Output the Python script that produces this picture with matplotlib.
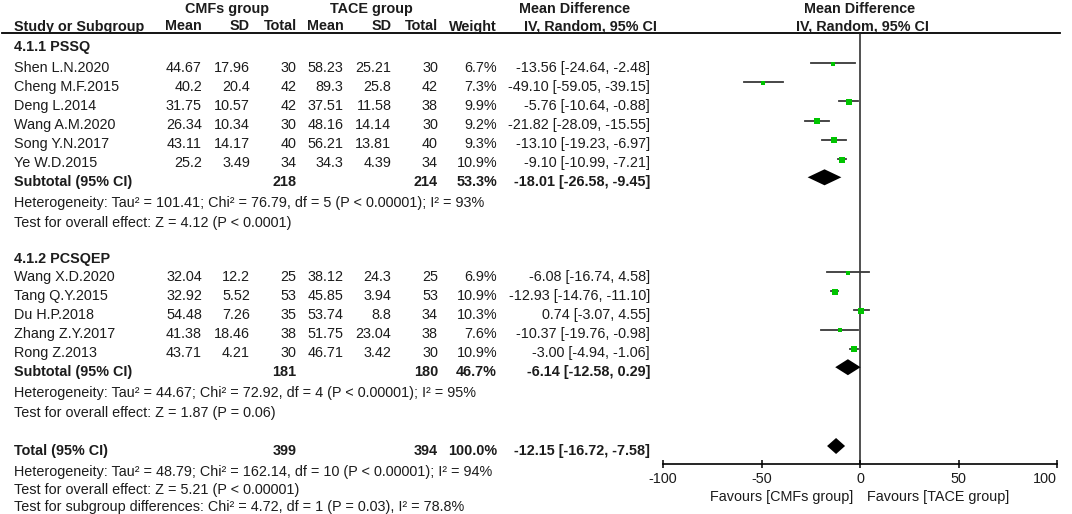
import numpy as np
import matplotlib
matplotlib.use('Agg')
import matplotlib.pyplot as plt

plt.rcParams['font.family'] = ['Liberation Sans', 'DejaVu Sans']
plt.rcParams['axes.unicode_minus'] = False

# --- data -------------------------------------------------------------
studies1 = ['Shen L.N.2020', 'Cheng M.F.2015', 'Deng L.2014', 'Wang A.M.2020',
            'Song Y.N.2017', 'Ye W.D.2015']
cmf_mean1 = [44.67, 40.2, 31.75, 26.34, 43.11, 25.2]
cmf_sd1 = [17.96, 20.4, 10.57, 10.34, 14.17, 3.49]
cmf_n1 = [30, 42, 42, 30, 40, 34]
tace_mean1 = [58.23, 89.3, 37.51, 48.16, 56.21, 34.3]
tace_sd1 = [25.21, 25.8, 11.58, 14.14, 13.81, 4.39]
tace_n1 = [30, 42, 38, 30, 40, 34]
weight1 = [6.7, 7.3, 9.9, 9.2, 9.3, 10.9]
md1 = [-13.56, -49.10, -5.76, -21.82, -13.10, -9.10]
lo1 = [-24.64, -59.05, -10.64, -28.09, -19.23, -10.99]
hi1 = [-2.48, -39.15, -0.88, -15.55, -6.97, -7.21]

studies2 = ['Wang X.D.2020', 'Tang Q.Y.2015', 'Du H.P.2018', 'Zhang Z.Y.2017', 'Rong Z.2013']
cmf_mean2 = [32.04, 32.92, 54.48, 41.38, 43.71]
cmf_sd2 = [12.2, 5.52, 7.26, 18.46, 4.21]
cmf_n2 = [25, 53, 35, 38, 30]
tace_mean2 = [38.12, 45.85, 53.74, 51.75, 46.71]
tace_sd2 = [24.3, 3.94, 8.8, 23.04, 3.42]
tace_n2 = [25, 53, 34, 38, 30]
weight2 = [6.9, 10.9, 10.3, 7.6, 10.9]
md2 = [-6.08, -12.93, 0.74, -10.37, -3.00]
lo2 = [-16.74, -14.76, -3.07, -19.76, -4.94]
hi2 = [4.58, -11.10, 4.55, -0.98, -1.06]

# subtotal 1, subtotal 2, total: n_cmf, n_tace, weight, md, lo, hi
pooled_labels = ['Subtotal (95% CI)', 'Subtotal (95% CI)', 'Total (95% CI)']
pooled_n_cmf = [218, 181, 399]
pooled_n_tace = [214, 180, 394]
pooled_weight = [53.3, 46.7, 100.0]
pooled_md = [-18.01, -6.14, -12.15]
pooled_lo = [-26.58, -12.58, -16.72]
pooled_hi = [-9.45, 0.29, -7.58]

group_titles = ['4.1.1 PSSQ', '4.1.2 PCSQEP']
stats_lines = [
    ['Heterogeneity: Tau\u00b2 = 101.41; Chi\u00b2 = 76.79, df = 5 (P < 0.00001); I\u00b2 = 93%',
     'Test for overall effect: Z = 4.12 (P < 0.0001)'],
    ['Heterogeneity: Tau\u00b2 = 44.67; Chi\u00b2 = 72.92, df = 4 (P < 0.00001); I\u00b2 = 95%',
     'Test for overall effect: Z = 1.87 (P = 0.06)'],
    ['Heterogeneity: Tau\u00b2 = 48.79; Chi\u00b2 = 162.14, df = 10 (P < 0.00001); I\u00b2 = 94%',
     'Test for overall effect: Z = 5.21 (P < 0.00001)',
     'Test for subgroup differences: Chi\u00b2 = 4.72, df = 1 (P = 0.03), I\u00b2 = 78.8%'],
]
xticks = [-100, -50, 0, 50, 100]

# --- layout (pixel rows / columns) ------------------------------------
W, H = 1072, 514
FS = 10.4
TXT = '#1c1c1c'
cols = [202, 250, 296.5, 343.5, 391.5, 438, 497, 650]
g1_title_y = 50.7
g1_rows = [71.7 + 19.1 * i for i in range(6)]
sub1_y = 186.3
st1_y = [206.5, 226.5]
g2_title_y = 262.7
g2_rows = [280.7 + 19.1 * i for i in range(5)]
sub2_y = 376.2
st2_y = [397, 417]
total_y = 455
st3_y = [476, 494, 511]
pooled_y = [sub1_y, sub2_y, total_y]

fig = plt.figure(figsize=(W / 100, H / 100), dpi=100)
tab = fig.add_axes([0, 0, 1, 1])
tab.set_xlim(0, W)
tab.set_ylim(H, 0)
tab.axis('off')


def put(x, y, s, ha='left', bold=False):
    tab.text(x, y, s, ha=ha, va='baseline', fontsize=FS,
             fontweight='bold' if bold else 'normal', color=TXT)


def fmt_md(m, l, h):
    return f'{m:.2f} [{l:.2f}, {h:.2f}]'


# header
put(226.7, 13, 'CMFs group', ha='center', bold=True)
put(371, 13, 'TACE group', ha='center', bold=True)
put(574.5, 13, 'Mean Difference', ha='center', bold=True)
put(860, 13, 'Mean Difference', ha='center', bold=True)
put(14, 30.5, 'Study or Subgroup', bold=True)
for x, s in zip(cols[:7], ['Mean', 'SD', 'Total', 'Mean', 'SD', 'Total', 'Weight']):
    put(x, 30.5, s, ha='right', bold=True)
put(590, 30.5, 'IV, Random, 95% CI', ha='center', bold=True)
put(862, 30.5, 'IV, Random, 95% CI', ha='center', bold=True)
tab.plot([2, 1060], [32.5, 32.5], color='black', lw=1.3)

# study rows
groups = [
    (group_titles[0], g1_title_y, g1_rows, studies1, cmf_mean1, cmf_sd1, cmf_n1,
     tace_mean1, tace_sd1, tace_n1, weight1, md1, lo1, hi1),
    (group_titles[1], g2_title_y, g2_rows, studies2, cmf_mean2, cmf_sd2, cmf_n2,
     tace_mean2, tace_sd2, tace_n2, weight2, md2, lo2, hi2),
]
for (title, ty, rows, names, cm, cs, cn, tm, ts, tn, wt, md, lo, hi) in groups:
    put(14, ty, title, bold=True)
    for i, y in enumerate(rows):
        put(14, y, names[i])
        vals = [f'{cm[i]:g}', f'{cs[i]:g}', f'{cn[i]}', f'{tm[i]:g}', f'{ts[i]:g}',
                f'{tn[i]}', f'{wt[i]:.1f}%', fmt_md(md[i], lo[i], hi[i])]
        for x, s in zip(cols, vals):
            put(x, y, s, ha='right')

for k, y in enumerate(pooled_y):
    put(14, y, pooled_labels[k], bold=True)
    put(cols[2], y, f'{pooled_n_cmf[k]}', ha='right', bold=True)
    put(cols[5], y, f'{pooled_n_tace[k]}', ha='right', bold=True)
    put(cols[6], y, f'{pooled_weight[k]:.1f}%', ha='right', bold=True)
    put(cols[7], y, fmt_md(pooled_md[k], pooled_lo[k], pooled_hi[k]), ha='right', bold=True)

for lines, ys in zip(stats_lines, [st1_y, st2_y, st3_y]):
    for s, y in zip(lines, ys):
        put(14, y, s)

# --- forest panel -----------------------------------------------------
x0, x1, ytop, yaxis = 663, 1057, 32.5, 464
fx = fig.add_axes([x0 / W, (H - yaxis) / H, (x1 - x0) / W, (yaxis - ytop) / H])
fx.set_xlim(-100, 100)
fx.set_ylim(yaxis, ytop)
fx.patch.set_alpha(0)
for sp in ['left', 'right', 'top']:
    fx.spines[sp].set_visible(False)
fx.spines['bottom'].set_linewidth(1.2)
fx.set_yticks([])
fx.set_xticks(xticks)
fx.set_xticklabels([str(t) for t in xticks])
fx.tick_params(axis='x', direction='inout', length=6, width=1.1, labelsize=FS,
               pad=2.5, colors='black', labelcolor=TXT)
fx.get_xticklabels()[-1].set_ha('right')
fx.axvline(0, color='#222222', lw=1.1, zorder=1)

off = 8.5
for rows, md, lo, hi, wt in [(g1_rows, md1, lo1, hi1, weight1), (g2_rows, md2, lo2, hi2, weight2)]:
    for y, m, l, h, w in zip(rows, md, lo, hi, wt):
        fx.plot([l, h], [y - off, y - off], color='#383838', lw=1.3, zorder=2)
        fx.plot([m], [y - off + 0.8], 's', color='#00c400', mew=0,
                ms=(2.4 + 0.3 * w) / 1.389, zorder=3)

for y, m, l, h in zip(pooled_y, pooled_md, pooled_lo, pooled_hi):
    yc = y - off - 0.5
    fx.fill([l, m, h, m], [yc, yc - 8, yc, yc + 8], color='black', lw=0, zorder=3)

tab.text(853, 501, 'Favours [CMFs group]', ha='right', va='baseline', fontsize=FS, color=TXT)
tab.text(867, 501, 'Favours [TACE group]', ha='left', va='baseline', fontsize=FS, color=TXT)

fig.savefig('out.png', dpi=100, facecolor='white')
